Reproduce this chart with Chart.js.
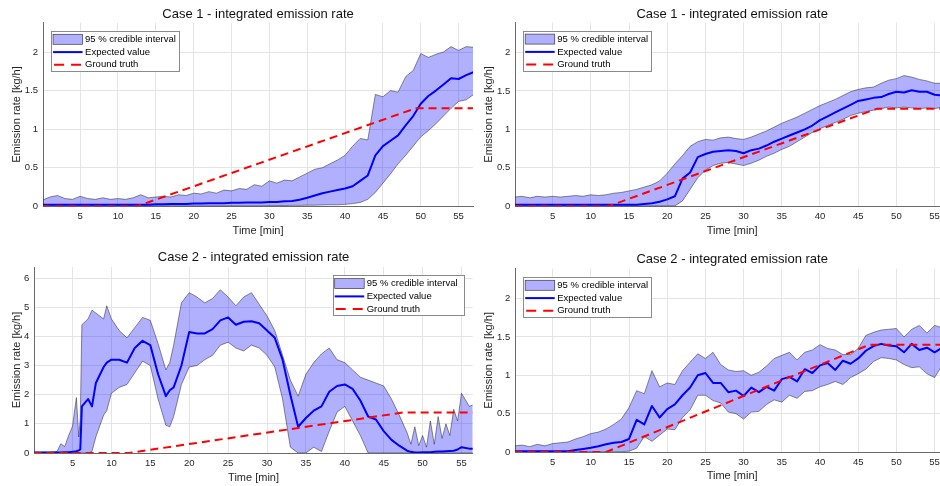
<!DOCTYPE html>
<html>
<head>
<meta charset="utf-8">
<script src="https://cdn.jsdelivr.net/npm/chart.js@4.4.1/dist/chart.umd.min.js"></script>
<style>
  html, body { margin: 0; padding: 0; background: #fff; width: 940px; height: 486px; overflow: hidden; }
  canvas { position: absolute; left: 0; top: 0; }
</style>
</head>
<body>
<canvas id="c1" width="960" height="486"></canvas>
<canvas id="c2" width="960" height="486"></canvas>
<canvas id="c3" width="960" height="486"></canvas>
<canvas id="c4" width="960" height="486"></canvas>
<script>
// time axis (minutes) shared by three of the panels
const minutes = [0,1,2,3,4,5,6,7,8,9,10,11,12,13,14,15,16,17,18,19,20,21,22,23,24,25,26,27,28,29,
  30,31,32,33,34,35,36,37,38,39,40,41,42,43,44,45,46,47,48,49,50,51,52,53,54,55,56,57];

// Case 1, left panel
const case1aUpper = [0.08,0.12,0.14,0.10,0.09,0.13,0.10,0.09,0.11,0.09,0.10,0.09,0.11,0.15,0.11,0.12,0.13,0.12,0.15,0.14,
  0.17,0.16,0.19,0.17,0.21,0.20,0.23,0.22,0.28,0.26,0.33,0.30,0.34,0.33,0.38,0.43,0.48,0.50,0.55,0.60,
  0.66,0.78,0.88,0.86,1.45,1.42,1.50,1.48,1.68,1.76,1.98,1.93,1.97,2.00,2.07,2.02,2.07,2.06];
const case1aMean = [0.02,0.02,0.02,0.02,0.02,0.02,0.02,0.02,0.02,0.02,0.02,0.02,0.02,0.02,0.02,
  0.025,0.025,0.03,0.03,0.03,0.035,0.035,0.04,0.04,0.04,0.045,0.045,0.05,0.05,0.05,0.055,0.055,0.065,0.07,0.085,
  0.11,0.14,0.17,0.19,0.21,0.23,0.26,0.33,0.40,0.66,0.78,0.85,0.92,1.05,1.17,1.33,1.43,1.50,1.58,1.66,1.65,1.70,1.74];
const case1aLower = [0.005,0.005,0.005,0.005,0.005,0.005,0.005,0.005,0.005,0.005,0.005,0.005,0.005,0.005,0.005,
  0.005,0.005,0.005,0.005,0.005,0.005,0.005,0.005,0.005,0.005,0.005,0.005,0.005,0.005,0.005,
  0.008,0.01,0.01,0.012,0.012,0.015,0.015,0.018,0.02,0.02,0.025,0.035,0.05,0.09,0.18,0.30,0.42,0.55,0.66,0.78,
  0.90,0.98,1.07,1.17,1.27,1.36,1.38,1.45];
const case1aTruthTime = [0, 12.5, 49.3, 57];
const case1aTruth = [0, 0, 1.27, 1.27];

// Case 1, right panel
const case1bUpper = [0.12,0.13,0.11,0.13,0.12,0.13,0.12,0.13,0.14,0.13,0.15,0.14,0.15,0.17,0.18,0.20,0.22,0.25,0.28,0.33,
  0.43,0.55,0.66,0.78,0.84,0.87,0.86,0.89,0.90,0.88,0.87,0.90,0.94,0.98,1.03,1.08,1.12,1.16,1.21,1.26,
  1.31,1.35,1.39,1.44,1.49,1.52,1.54,1.55,1.60,1.64,1.66,1.70,1.68,1.65,1.63,1.60,1.60,1.60];
const case1bMean = [0.02,0.02,0.02,0.02,0.02,0.02,0.02,0.02,0.02,0.02,0.02,0.02,0.02,0.02,0.02,0.02,0.02,
  0.03,0.04,0.06,0.09,0.13,0.36,0.44,0.64,0.68,0.71,0.72,0.73,0.72,0.69,0.73,0.75,0.79,0.84,0.88,0.92,0.96,1.00,1.05,
  1.12,1.17,1.22,1.27,1.32,1.37,1.39,1.41,1.42,1.46,1.49,1.48,1.51,1.49,1.49,1.45,1.44,1.44];
const case1bLower = [0.005,0.005,0.005,0.005,0.005,0.005,0.005,0.005,0.005,0.005,0.005,0.005,0.005,0.005,0.005,
  0.005,0.005,0.005,0.005,0.005,0.005,0.005,
  0.07,0.22,0.37,0.47,0.53,0.56,0.57,0.55,0.53,0.56,0.60,0.65,0.69,0.74,0.78,0.84,0.90,0.96,
  1.01,1.05,1.09,1.13,1.18,1.21,1.23,1.25,1.27,1.29,1.28,1.29,1.28,1.27,1.28,1.27,1.29,1.30];
const case1bTruthTime = [0, 12.3, 47.5, 57];
const case1bTruth = [0, 0, 1.27, 1.27];

// Case 2, left panel (own time axis, denser where it jumps)
const case2aTime = [0,1,2,3,3.5,4,4.5,5,5.5,5.8,6,6.2,7,7.5,8,9,9.4,10,11,12,13,14,15,16,17,17.5,
  18,19,20,21,22,23,24,25,26,27,28,29,30,31,32,33,34,35,36,37,38,39,40,41,42,43,44,45,46,47,48,
  48.5,49,49.5,50,50.5,51,51.5,52,52.5,53,53.5,54,54.5,55,56,57];
const case2aUpper = [0.03,0.03,0.03,0.05,0.32,0.22,0.6,0.92,1.9,0.55,1.2,4.4,4.6,4.9,4.8,4.6,5.05,4.6,
  4.2,3.95,4.3,4.65,4.55,3.75,2.85,3.1,
  3.7,5.15,5.5,5.35,5.15,5.3,5.6,5.35,5.05,5.35,5.5,5.1,4.7,4.2,3.35,2.5,1.95,2.7,3.1,3.4,3.6,3.2,3.1,
  2.85,2.6,2.5,2.4,2.3,1.85,1.3,0.7,
  0.3,0.9,0.25,0.6,0.2,1.1,0.3,1.25,0.5,1.0,0.6,1.5,1.1,2.05,1.6,1.7];
const case2aMean = [0.02,0.02,0.02,0.02,0.02,0.03,0.03,0.04,0.06,0.09,0.12,1.6,1.85,1.6,2.4,2.95,3.1,3.2,
  3.2,3.1,3.6,3.85,3.7,2.7,1.95,2.15,
  2.25,3.0,4.15,4.1,4.1,4.25,4.55,4.65,4.4,4.5,4.52,4.45,4.2,3.95,3.2,2.0,0.9,1.2,1.45,1.6,2.1,2.3,2.35,
  2.2,1.8,1.25,1.15,0.75,0.45,0.25,0.08,
  0.04,0.02,0.02,0.03,0.03,0.03,0.04,0.05,0.05,0.06,0.07,0.08,0.12,0.2,0.15,0.15];
const case2aLower = [0,0,0,0,0,0,0,0,0,0,0,0,0,0.05,0.55,1.3,1.45,2.05,
  2.25,2.35,2.75,3.15,3.0,1.85,0.95,0.9,
  1.25,2.35,2.95,3.0,3.2,3.35,3.7,3.8,3.6,3.5,3.7,3.6,3.35,2.95,1.85,0.2,0,0,0.2,0.05,0.75,1.4,1.6,
  1.1,0.6,0,0,0,0,0,0,
  0,0,0,0,0,0,0,0,0,0,0,0,0,0,0,0];
const case2aTruthTime = [0, 12.2, 47.5, 57];
const case2aTruth = [0, 0, 1.39, 1.39];

// Case 2, right panel
const case2bUpper = [0.08,0.09,0.07,0.10,0.08,0.11,0.12,0.13,0.17,0.20,0.24,0.26,0.30,0.36,0.43,0.58,0.80,0.76,1.06,0.85,
  0.90,0.88,1.06,1.17,1.28,1.22,1.30,1.14,1.07,1.05,1.06,1.00,1.04,1.12,1.22,1.26,1.30,1.20,1.30,1.33,
  1.40,1.35,1.33,1.27,1.27,1.35,1.52,1.56,1.59,1.60,1.61,1.50,1.60,1.65,1.55,1.65,1.62,1.63];
const case2bMean = [0.01,0.01,0.01,0.01,0.01,0.01,0.01,0.01,0.025,0.04,
  0.055,0.075,0.10,0.12,0.13,0.17,0.42,0.36,0.60,0.45,0.56,0.62,0.74,0.84,1.00,1.03,0.90,0.90,0.78,0.80,
  0.73,0.84,0.78,0.85,0.80,0.95,0.98,0.92,1.08,1.03,1.13,1.16,1.07,1.19,1.15,1.22,1.32,1.38,1.41,1.39,
  1.38,1.30,1.41,1.33,1.36,1.30,1.36,1.38];
const case2bLower = [0.005,0.005,0.005,0.005,0.005,0.005,0.005,0.005,0.005,0.005,0.005,0.005,0.005,0.005,0.005,
  0.01,0.05,0.20,0.14,0.22,0.30,0.29,0.45,0.55,0.74,0.74,0.67,0.64,0.52,0.50,
  0.43,0.52,0.53,0.62,0.68,0.65,0.74,0.70,0.79,0.80,0.85,0.88,0.92,0.88,0.97,1.02,1.08,1.18,1.23,1.22,
  1.20,1.14,1.10,1.11,1.02,0.97,1.13,1.14];
const case2bTruthTime = [0, 12, 46.5, 57];
const case2bTruth = [0, 0, 1.4, 1.4];

const bandFill = 'rgba(0,0,255,0.31)';
const bandEdge = 'rgba(20,20,20,0.8)';

Chart.defaults.font.family = '"Liberation Sans", Arial, Helvetica, sans-serif';
Chart.defaults.color = '#262626';

// legend drawn inside the plot area, MATLAB style
const insideLegend = {
  id: 'insideLegend',
  afterDatasetsDraw(chart, args, opts) {
    const ctx = chart.ctx, area = chart.chartArea;
    const w = opts.width, h = 41;
    const x = opts.side === 'right' ? area.right - 8 - w : area.left + 8;
    const y = area.top + 8;
    ctx.save();
    ctx.fillStyle = '#fff';
    ctx.fillRect(x, y, w, h);
    ctx.strokeStyle = '#8a8a8a';
    ctx.lineWidth = 1;
    ctx.strokeRect(Math.round(x) + 0.5, Math.round(y) + 0.5, Math.round(w) - 1, h - 1);
    const rows = [8.6, 21.4, 34];
    const labels = ['95 % credible interval', 'Expected value', 'Ground truth'];
    // patch
    ctx.fillStyle = bandFill;
    ctx.fillRect(x + 2, y + rows[0] - 5, 29.5, 10);
    ctx.strokeStyle = bandEdge;
    ctx.lineWidth = 0.7;
    ctx.strokeRect(x + 2, y + rows[0] - 5, 29.5, 10);
    // mean line
    ctx.beginPath();
    ctx.strokeStyle = '#0000ff';
    ctx.lineWidth = 2;
    ctx.moveTo(x + 2, y + rows[1]);
    ctx.lineTo(x + 31.5, y + rows[1]);
    ctx.stroke();
    // truth line
    ctx.beginPath();
    ctx.strokeStyle = '#ff0000';
    ctx.setLineDash([10, 7]);
    ctx.moveTo(x + 3, y + rows[2]);
    ctx.lineTo(x + 31.5, y + rows[2]);
    ctx.stroke();
    ctx.setLineDash([]);
    ctx.fillStyle = '#000';
    ctx.font = '9.5px "Liberation Sans", Arial, sans-serif';
    ctx.textBaseline = 'middle';
    labels.forEach((t, i) => ctx.fillText(t, x + 34, y + rows[i]));
    ctx.restore();
  }
};

function pts(xs, ys) {
  return xs.map((x, i) => ({ x: x, y: ys[i] }));
}

function makePanel(p) {
  const titleH = 4 + 13 * 1.2 + p.titlePadBottom;
  new Chart(document.getElementById(p.id), {
    type: 'line',
    data: {
      datasets: [
        { label: 'lower', data: pts(p.time, p.lower), borderColor: bandEdge, borderWidth: 0.6,
          pointRadius: 0, fill: false, order: 3 },
        { label: '95 % credible interval', data: pts(p.time, p.upper), borderColor: bandEdge, borderWidth: 0.6,
          backgroundColor: bandFill, pointRadius: 0, fill: '-1', order: 2 },
        { label: 'Expected value', data: pts(p.time, p.mean), borderColor: '#0000ff', borderWidth: 2,
          borderJoinStyle: 'round', pointRadius: 0, fill: false, order: 1 },
        { label: 'Ground truth', data: pts(p.truthTime, p.truth), borderColor: '#ff0000', borderWidth: 2,
          borderDash: [8, 5], pointRadius: 0, fill: false, order: 0 }
      ]
    },
    options: {
      responsive: false,
      animation: false,
      devicePixelRatio: 1,
      layout: {
        padding: { left: p.L - p.yW, right: 960 - p.R, top: p.T - titleH, bottom: 486 - p.B - p.xH }
      },
      scales: {
        x: {
          type: 'linear',
          min: 0.1,
          max: p.xMax,
          afterFit: s => { s.height = p.xH; },
          border: { display: true, color: '#6a6a6a', width: 1 },
          grid: { color: '#e4e4e4', drawTicks: false },
          ticks: { stepSize: 5, includeBounds: false, autoSkip: false, maxRotation: 0, padding: 4.5,
            font: { size: 9.5 }, color: '#262626' },
          title: { display: true, text: 'Time [min]', font: { size: 11 }, padding: 0, color: '#262626' }
        },
        y: {
          min: 0,
          max: p.yMax,
          afterFit: s => { s.width = p.yW; },
          border: { display: true, color: '#6a6a6a', width: 1 },
          grid: { color: '#e4e4e4', drawTicks: false },
          ticks: { stepSize: p.yStep, includeBounds: false, padding: 5, font: { size: 9.5 }, color: '#262626',
            callback: v => String(+v.toFixed(2)) },
          title: { display: true, text: 'Emission rate [kg/h]', font: { size: 11 }, padding: 0, color: '#262626' }
        }
      },
      plugins: {
        legend: { display: false },
        tooltip: { enabled: false },
        filler: { drawTime: 'beforeDatasetsDraw' },
        title: { display: true, text: p.title, fullSize: false, color: '#111',
          font: { size: 13, weight: 'normal' }, padding: { top: 4, bottom: p.titlePadBottom } },
        insideLegend: { side: p.legendSide, width: p.legendWidth }
      }
    },
    plugins: [insideLegend]
  });
}

makePanel({ id: 'c1', title: 'Case 1 - integrated emission rate', time: minutes,
  upper: case1aUpper, mean: case1aMean, lower: case1aLower, truthTime: case1aTruthTime, truth: case1aTruth,
  L: 43.06, R: 473, T: 22.7, B: 206.3, xMax: 56.9, yMax: 2.38, yStep: 0.5, yW: 33, xH: 31.3,
  titlePadBottom: 0.1, legendSide: 'left', legendWidth: 129 });
makePanel({ id: 'c2', title: 'Case 1 - integrated emission rate', time: minutes,
  upper: case1bUpper, mean: case1bMean, lower: case1bLower, truthTime: case1bTruthTime, truth: case1bTruth,
  L: 515.2, R: 949.1, T: 22.5, B: 206.3, xMax: 56.9, yMax: 2.39, yStep: 0.5, yW: 32.5, xH: 31.3,
  titlePadBottom: 0, legendSide: 'left', legendWidth: 129.4 });
makePanel({ id: 'c3', title: 'Case 2 - integrated emission rate', time: case2aTime,
  upper: case2aUpper, mean: case2aMean, lower: case2aLower, truthTime: case2aTruthTime, truth: case2aTruth,
  L: 34.4, R: 472.7, T: 267, B: 453, xMax: 56.44, yMax: 6.38, yStep: 1, yW: 23.7, xH: 31.6,
  titlePadBottom: 1.4, legendSide: 'right', legendWidth: 132 });
makePanel({ id: 'c4', title: 'Case 2 - integrated emission rate', time: minutes,
  upper: case2bUpper, mean: case2bMean, lower: case2bLower, truthTime: case2bTruthTime, truth: case2bTruth,
  L: 515.2, R: 949.1, T: 268.7, B: 452, xMax: 56.9, yMax: 2.39, yStep: 0.5, yW: 32.5, xH: 30.9,
  titlePadBottom: 1.4, legendSide: 'left', legendWidth: 128.7 });
</script>
</body>
</html>
